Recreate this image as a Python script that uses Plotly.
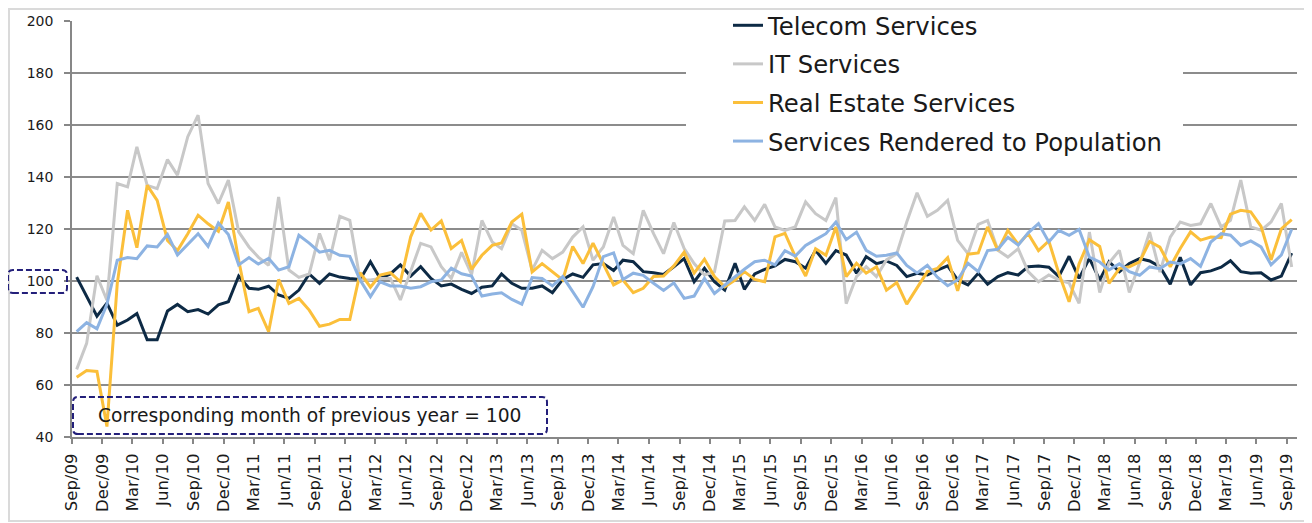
import pandas as pd
import plotly.graph_objects as go

# ---- data (index 0 = Sep/09 ... 120 = Sep/19), corresponding month of previous year = 100
start_month = "2009-09-01"
n_months = 121
months = pd.date_range(start_month, periods=n_months, freq="MS") + pd.Timedelta(days=14)

telecom = [101.5, 94, 86.5, 91.5, 83, 85, 87.5, 77.4, 77.4, 88.5,
           91, 88.2, 89, 87.3, 90.8, 92, 101.9, 97.2, 96.8, 98,
           94.6, 93.3, 96.5, 102.7, 99.1, 102.7, 101.5, 101, 100.6, 107.4,
           101, 102.7, 106.2, 101.9, 105.5, 101, 98.1, 98.8, 96.8, 95.2,
           97.6, 98.1, 102.7, 99.1, 97.2, 97.2, 98.1, 95.5, 100.6, 102.7,
           101.4, 106.2, 106.7, 104, 108, 107.4, 103.6, 103.2, 102.5, 105.5,
           108.6, 99.7, 104.9, 99.7, 96.5, 106.8, 96.8, 102.7, 104.5, 105.8,
           108.3, 107.4, 104.9, 111.8, 106.8, 111.7, 110, 103, 109.4, 106.7,
           107.7, 106, 101.7, 103, 102.3, 104.2, 105.8, 100.4, 98.5, 103,
           98.8, 101.7, 103.2, 102.3, 105.5, 105.8, 105.3, 101.7, 109.5, 101,
           108.7, 100.4, 107.4, 103.6, 106.7, 108.6, 107.7, 105.5, 98.8, 109.1,
           98.5, 103.2, 103.9, 105.3, 107.8, 103.6, 103, 103.2, 100.4, 101.9,
           110.7]

it_services = [66, 76, 102, 92.6, 137.5, 136.2, 151.6, 136.8, 135.5, 146.7,
               140.7, 155.5, 163.8, 137.5, 129.8, 138.8, 118.9, 113.1, 109.2, 106,
               132.3, 104.2, 101.4, 102.7, 118.3, 108, 124.9, 123.3, 100.4, 100.4,
               101, 101, 92.7, 104.2, 114.5, 113.1, 105.5, 101, 111, 102.5,
               123.3, 115, 112.4, 122, 119.5, 104.2, 111.8, 108.6, 111.1, 116.9,
               120.8, 108, 113.1, 124.6, 113.7, 110.5, 127.2, 118.2, 110.5, 122.5,
               112.5, 106.7, 102.3, 103.5, 123.1, 123.3, 128.5, 123.3, 129.5, 120.8,
               119.5, 120.8, 130.4, 125.9, 123.3, 132.1, 91.3, 101.7, 105.5, 101.7,
               108.1, 110.5, 122.7, 133.9, 124.9, 127.2, 131, 115.6, 110.5, 121.8,
               123.3, 111.8, 109.2, 112.4, 103.6, 99.7, 102.3, 100.4, 99.2, 91.4,
               118.8, 95.6, 106.9, 111.8, 95.6, 106.9, 118.8, 103.4, 116.9, 122.7,
               121.4, 122, 129.8, 120.8, 123.3, 138.8, 120.8, 119.5, 122.7, 129.8,
               105.4]

real_estate = [63, 65.6, 65.2, 44, 99, 127.2, 112.8, 136.8, 131, 115.6,
               111.7, 118.2, 125.3, 122, 119.1, 130.4, 108, 88.2, 89.5, 80.5,
               100.6, 91.4, 93.3, 88.8, 82.6, 83.4, 85.2, 85.2, 103.2, 97.6,
               102.3, 103.2, 99.7, 117, 126, 119.6, 123.1, 112.5, 115.6, 104.5,
               109.9, 113.7, 114.6, 122.7, 125.7, 103.5, 106.7, 103.5, 100.4, 113.3,
               106.7, 114.6, 106.7, 98.5, 100.4, 95.5, 97.2, 101.7, 101.9, 105.8,
               111.1, 103, 108.4, 101.7, 97.8, 100.4, 103.6, 100.6, 99.7, 117,
               118.3, 109.4, 101.9, 112.4, 109.9, 120.8, 101.7, 106.8, 103, 105.5,
               96.5, 99.4, 91.1, 97.2, 103.6, 104.8, 109, 96.2, 110.3, 110.8,
               120.8, 111.7, 119.5, 114.1, 118.2, 111.7, 115.4, 103, 92, 106.6,
               115.9, 113.3, 99.1, 104.8, 105.5, 107.4, 115.2, 113, 105.5, 112.5,
               118.9, 115.7, 116.9, 116.7, 125.7, 127.2, 126.6, 121, 108.1, 120.1,
               123.6]

population = [80.5, 84, 81.6, 91, 108, 109, 108.6, 113.5, 113.1, 117.9,
              110, 114, 118.2, 113.3, 122.3, 117.9, 106.2, 109, 106.5, 108.7,
              104.2, 105.5, 117.6, 114.6, 111.1, 111.8, 109.9, 109.5, 100.4, 94,
              99.7, 98.1, 98.1, 97.2, 97.8, 99.7, 100.4, 104.9, 102.8, 101.9,
              94.2, 95, 95.5, 92.9, 91.1, 101.3, 101, 98.1, 101.7, 95.9,
              89.9, 97.8, 109.4, 110.8, 100.6, 103, 102.2, 99.1, 96.4, 99.3,
              93.3, 94.2, 101, 95.2, 98.5, 101.7, 104.5, 107.4, 108, 106.2,
              111.7, 109.6, 113.7, 115.9, 118.2, 122.7, 115.9, 118.8, 111.8, 109.5,
              109.9, 110.8, 106, 103.1, 106, 101.5, 98.2, 100.4, 106.8, 103.6,
              111.7, 112.2, 116.8, 113.8, 118.5, 122.1, 115, 119.5, 117.6, 119.8,
              109.2, 107.3, 104.3, 106.6, 103.6, 102.2, 105.4, 104.7, 107.3, 106.6,
              108.6, 105.6, 115, 118.2, 117.6, 113.7, 115.4, 113.1, 106.2, 110,
              119.9]

series_names = ["Telecom Services", "IT Services", "Real Estate Services",
                "Services Rendered to Population"]
series_values = [telecom, it_services, real_estate, population]
series_colors = ["#0d2a45", "#c8c8c8", "#fbbf3a", "#8db3e2"]

note_text = "Corresponding month of previous year = 100"
y_ticks = [40, 60, 80, 100, 120, 140, 160, 180, 200]

FONT = "Verdana, DejaVu Sans, sans-serif"
NAVY = "#231f7a"

fig = go.Figure()
for name, vals, col in zip(series_names, series_values, series_colors):
    fig.add_trace(go.Scatter(x=months, y=vals, name=name, mode="lines",
                             line=dict(color=col, width=3), legendgroup=name))

# the page body adds an 8px margin, so the figure is sized to fit inside it
OFF = 8
W, H = 1304, 515
ml, mr, mt, mb = 64, 15, 13, 86
pw = W - ml - mr
ph = H - mt - mb


def px_x(page_px):
    return (page_px - OFF - ml) / pw


def px_y(page_px):
    return 1 - (page_px - OFF - mt) / ph


def rounded(x0, y0, x1, y1, rx, ry):
    return (f"M {x0+rx},{y0} L {x1-rx},{y0} Q {x1},{y0} {x1},{y0+ry} "
            f"L {x1},{y1-ry} Q {x1},{y1} {x1-rx},{y1} L {x0+rx},{y1} "
            f"Q {x0},{y1} {x0},{y1-ry} L {x0},{y0+ry} Q {x0},{y0} {x0+rx},{y0} Z")


shapes = [
    # white area behind legend (hides gridlines)
    dict(type="rect", xref="paper", yref="paper", x0=px_x(686), x1=px_x(1183),
         y0=px_y(160), y1=px_y(21), fillcolor="white", line=dict(width=0), layer="above"),
    # outer chart border
    dict(type="rect", xref="paper", yref="paper", x0=px_x(9), x1=px_x(1309),
         y0=px_y(521), y1=px_y(9), line=dict(color="#dadada", width=2)),
    # dashed box around the 100 tick label
    dict(type="path", xref="paper", yref="paper",
         path=rounded(px_x(8), px_y(293), px_x(67), px_y(270), 0.004, 0.012),
         line=dict(color=NAVY, width=2, dash="6px,3px")),
    # dashed box around the note
    dict(type="path", xref="paper", yref="paper",
         path=rounded(px_x(73), px_y(434), px_x(547), px_y(397), 0.004, 0.012),
         line=dict(color=NAVY, width=2, dash="6px,3px"), fillcolor="rgba(0,0,0,0)"),
]

fig.update_layout(
    width=W, height=H,
    margin=dict(l=ml, r=mr, t=mt, b=mb, autoexpand=False),
    paper_bgcolor="white", plot_bgcolor="white",
    font=dict(family=FONT, color="#1a1a1a"),
    showlegend=True,
    legend=dict(xref="paper", yref="paper",
                x=px_x(728), xanchor="left", y=px_y(3), yanchor="top",
                font=dict(size=24.3, family=FONT, color="#1a1a1a"),
                bgcolor="rgba(255,255,255,0)", borderwidth=0,
                tracegroupgap=4, itemwidth=30),
    shapes=shapes,
    annotations=[dict(text=note_text, xref="paper", yref="paper",
                      x=px_x(309), y=px_y(415), xanchor="center", yanchor="middle",
                      showarrow=False,
                      font=dict(size=18.7, family=FONT, color="#1a1a1a"))],
)

fig.update_xaxes(type="date", range=["2009-09-01", "2019-10-01"],
                 tick0="2009-09-01", dtick="M3", tickformat="%b/%y",
                 tickangle=-90, tickfont=dict(size=16.5, family=FONT, color="#1a1a1a"),
                 showgrid=False, showline=True, linecolor="#878787", linewidth=2,
                 ticks="outside", ticklen=5, tickcolor="#878787", tickwidth=1.5,
                 ticklabelstandoff=3, automargin=False)
fig.update_yaxes(range=[40, 200], tickvals=y_ticks,
                 tickfont=dict(size=14, family=FONT, color="#1a1a1a"),
                 showgrid=True, gridcolor="#8c8c8c", gridwidth=1.5,
                 showline=True, linecolor="#878787", linewidth=1.5,
                 ticks="outside", ticklen=6, tickcolor="#878787", tickwidth=1.5,
                 ticklabelstandoff=8, zeroline=False, automargin=False)

fig.write_html("out.html")
